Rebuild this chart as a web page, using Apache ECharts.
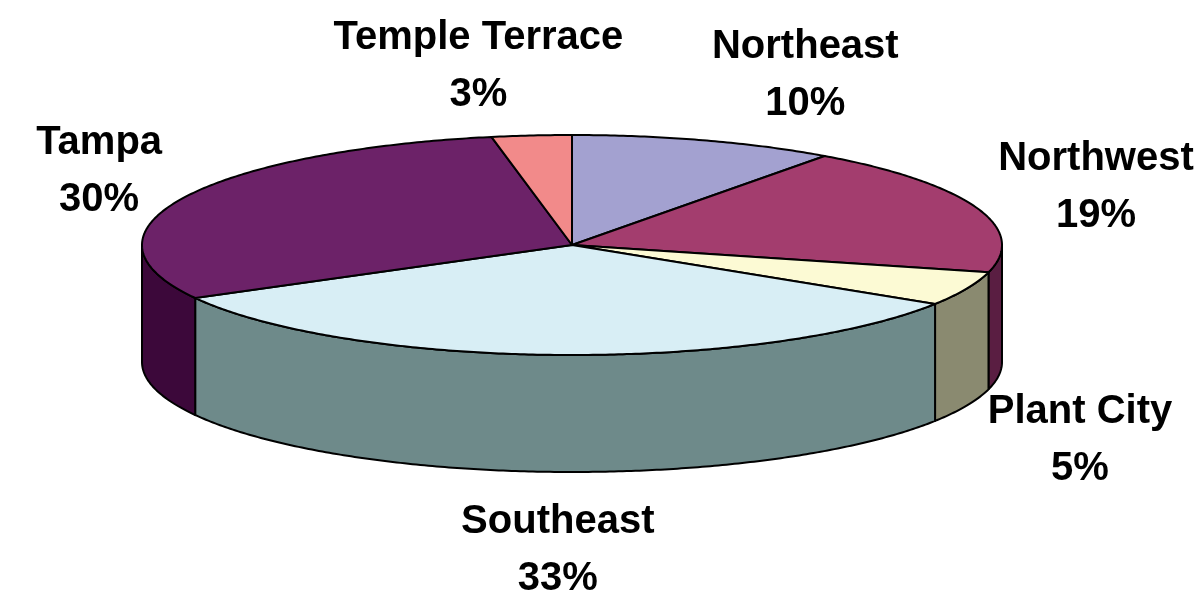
<!DOCTYPE html>
<html>
<head>
<meta charset="utf-8">
<script src="https://cdn.jsdelivr.net/npm/echarts@6/dist/echarts.min.js"></script>
<style>
html, body { margin: 0; padding: 0; background: #fff; }
#chart { width: 1200px; height: 610px; }
</style>
</head>
<body>
<div id="chart"></div>
<script>
// slices, clockwise from 12 o'clock
var names = ['Northeast', 'Northwest', 'Plant City', 'Southeast', 'Tampa', 'Temple Terrace'];
var shares = [10, 19, 5, 33, 30, 3];
var topColors = ['#A3A1D0', '#A33D6E', '#FCFAD4', '#D8EEF5', '#6C2268', '#F28A8A'];
var sideColors = ['#5E5C80', '#5A1E42', '#8A8A70', '#6E8A8A', '#3C083A', '#8A4646'];
// small manual shift of a label (px), Excel moved this one
var labelNudge = [0, 0, 0, 0, 0, -51];

// ellipse of the pie top (px)
var CX = 572, CY = 245, RX = 430, RY = 110, DEPTH = 117;
var LABEL_FONT = 'bold 40px "Liberation Sans", Arial, sans-serif';

var total = shares.reduce(function (a, b) { return a + b; }, 0);
var starts = [];
(function () {
    var acc = 0;
    for (var i = 0; i < shares.length; i++) {
        starts.push(acc / total * Math.PI * 2);
        acc += shares[i];
    }
})();

var measureCtx = document.createElement('canvas').getContext('2d');
measureCtx.font = LABEL_FONT;
function textWidth(lines) {
    var w = 0;
    for (var k = 0; k < lines.length; k++) w = Math.max(w, measureCtx.measureText(lines[k]).width);
    return w;
}

function pt(t, dy) {
    return [CX + RX * Math.sin(t), CY - RY * Math.cos(t) + (dy || 0)];
}
function arc(a, b, dy) {
    var pts = [], n = Math.max(2, Math.ceil((b - a) / 0.01));
    for (var k = 0; k <= n; k++) pts.push(pt(a + (b - a) * k / n, dy));
    return pts;
}

function renderSide(params, api) {
    var i = params.dataIndex;
    var t0 = starts[i], t1 = t0 + api.value(1) / total * Math.PI * 2;
    var a = Math.max(t0, Math.PI / 2), b = Math.min(t1, Math.PI * 1.5);
    if (a >= b) return null;
    var pts = arc(a, b, 0).concat(arc(a, b, DEPTH).reverse());
    return {
        type: 'polygon',
        shape: { points: pts },
        style: { fill: sideColors[i], stroke: '#000', lineWidth: 2, lineJoin: 'round' }
    };
}

function renderTop(params, api) {
    var i = params.dataIndex;
    var v = api.value(1);
    var t0 = starts[i], t1 = t0 + v / total * Math.PI * 2;
    var pts = [[CX, CY]].concat(arc(t0, t1, 0));
    var m = (t0 + t1) / 2, s = Math.sin(m), c = Math.cos(m);
    var lines = [names[i], Math.round(v / total * 100) + '%'];
    var half = textWidth(lines) / 2;
    var lx = CX + (RX + 23) * s + labelNudge[i];
    // block sits beside the anchor on the sides, centred near top/bottom
    if (s > 0.2) lx += half;
    else if (s < -0.2) lx -= half;
    var ly = CY - (RY + 74) * c + (c < 0 ? DEPTH : 0) + 5;
    return {
        type: 'group',
        children: [{
            type: 'polygon',
            shape: { points: pts },
            style: { fill: topColors[i], stroke: '#000', lineWidth: 2, lineJoin: 'round' }
        }, {
            type: 'text',
            x: lx,
            y: ly,
            style: {
                text: lines.join('\n'),
                font: LABEL_FONT,
                lineHeight: 57,
                fill: '#000',
                align: 'center',
                verticalAlign: 'middle'
            }
        }]
    };
}

var data = shares.map(function (v, i) { return [i, v]; });

var chart = echarts.init(document.getElementById('chart'));
chart.setOption({
    animation: false,
    series: [{
        type: 'custom',
        coordinateSystem: 'none',
        renderItem: renderSide,
        data: data,
        z: 1
    }, {
        type: 'custom',
        coordinateSystem: 'none',
        renderItem: renderTop,
        data: data,
        z: 2
    }]
});
</script>
</body>
</html>
